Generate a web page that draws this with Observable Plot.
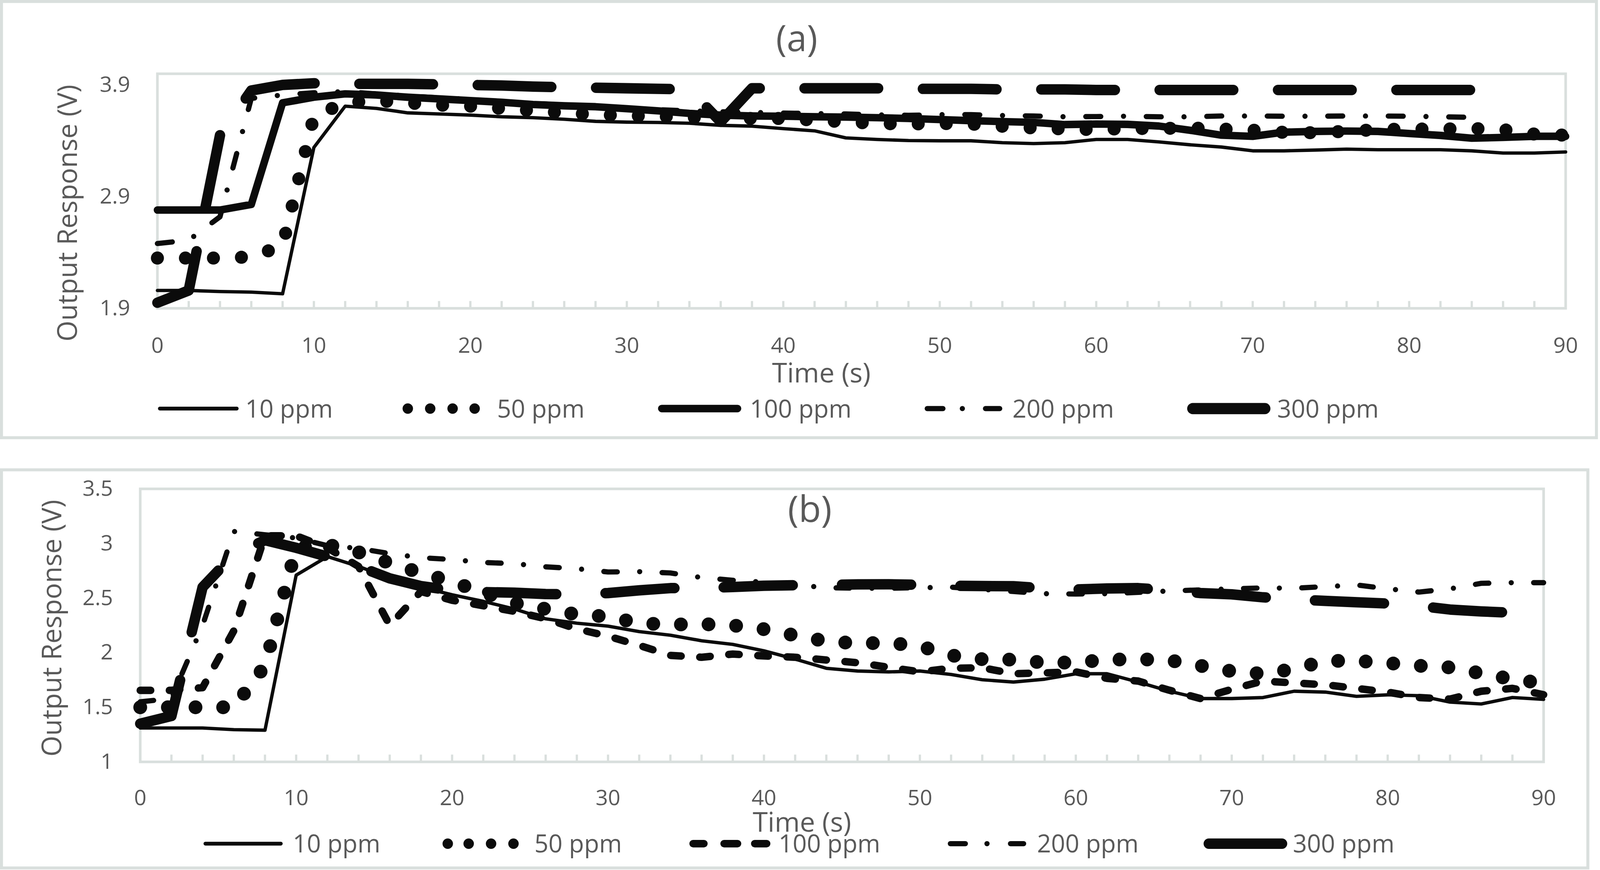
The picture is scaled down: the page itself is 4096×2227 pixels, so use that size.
<!DOCTYPE html>
<html><head><meta charset="utf-8">
<script src="https://cdn.jsdelivr.net/npm/d3@7"></script>
<script src="https://cdn.jsdelivr.net/npm/@observablehq/plot@0.6"></script>
<style>
html,body{margin:0;padding:0;background:#fff;}
#root{position:relative;width:4096px;height:2227px;overflow:hidden;background:#fff;}
</style></head><body><div id="root"></div>
<script>
// ---------- data ----------
const time = [0,2,4,6,8,10,12,14,16,18,20,22,24,26,28,30,32,34,36,38,40,42,44,46,48,50,52,54,56,58,60,62,64,66,68,70,72,74,76,78,80,82,84,86,88,90];
const seriesNames = ["10 ppm","50 ppm","100 ppm","200 ppm","300 ppm"];
const xTickLabels = [0,10,20,30,40,50,60,70,80,90];
const yTicksA = [1.9,2.9,3.9];
const yTicksB = [1,1.5,2,2.5,3,3.5];

// panel (a)
const a10 = [2.06,2.06,2.05,2.045,2.03,3.34,3.71,3.69,3.65,3.64,3.63,3.615,3.607,3.593,3.574,3.567,3.564,3.557,3.538,3.531,3.509,3.489,3.426,3.412,3.402,3.40,3.40,3.383,3.375,3.383,3.412,3.412,3.39,3.364,3.344,3.31,3.31,3.317,3.325,3.32,3.32,3.32,3.31,3.29,3.29,3.30];
const a50 = [2.35,2.35,2.35,2.36,2.46,3.62,3.74,3.76,3.74,3.72,3.71,3.69,3.67,3.65,3.635,3.625,3.62,3.61,3.605,3.60,3.60,3.585,3.57,3.555,3.55,3.555,3.55,3.53,3.515,3.506,3.50,3.51,3.51,3.515,3.505,3.495,3.475,3.472,3.485,3.50,3.505,3.505,3.51,3.50,3.46,3.45];
const a100 = [2.78,2.78,2.78,2.83,3.74,3.79,3.82,3.81,3.79,3.775,3.76,3.745,3.725,3.713,3.705,3.687,3.668,3.645,3.63,3.622,3.62,3.615,3.612,3.607,3.60,3.59,3.58,3.572,3.565,3.545,3.55,3.547,3.532,3.494,3.45,3.44,3.477,3.484,3.487,3.484,3.465,3.448,3.423,3.43,3.44,3.44];
const a200 = [2.48,2.51,2.72,3.78,3.81,3.83,3.84,3.82,3.80,3.785,3.77,3.75,3.735,3.72,3.705,3.69,3.678,3.668,3.66,3.654,3.648,3.644,3.64,3.632,3.628,3.634,3.634,3.626,3.622,3.615,3.617,3.62,3.615,3.615,3.622,3.622,3.62,3.62,3.622,3.622,3.62,3.615,3.61,null,null,null];
const a300 = [1.95,2.06,3.45,3.85,3.90,3.915,3.91,3.91,3.91,3.905,3.90,3.895,3.885,3.88,3.875,3.87,3.865,3.86,3.57,3.87,3.87,3.87,3.87,3.87,3.865,3.865,3.865,3.86,3.86,3.86,3.855,3.855,3.855,3.855,3.855,3.855,3.855,3.855,3.855,3.855,3.855,3.855,3.855,null,null,null];

// panel (b)
const b10 = [1.31,1.31,1.31,1.295,1.29,2.71,2.88,2.79,2.68,2.60,2.53,2.47,2.40,2.31,2.27,2.243,2.193,2.16,2.109,2.076,2.017,1.941,1.857,1.832,1.824,1.832,1.80,1.752,1.731,1.757,1.807,1.807,1.731,1.647,1.58,1.58,1.589,1.647,1.639,1.60,1.614,1.606,1.547,1.53,1.589,1.572];
const b50 = [1.50,1.50,1.50,1.50,1.88,2.96,2.99,2.92,2.82,2.73,2.65,2.55,2.455,2.40,2.35,2.33,2.27,2.257,2.262,2.25,2.215,2.158,2.105,2.085,2.09,2.06,1.975,1.94,1.936,1.908,1.91,1.935,1.941,1.93,1.88,1.83,1.807,1.85,1.925,1.925,1.905,1.88,1.865,1.81,1.757,1.72];
const b100 = [1.655,1.655,1.68,2.20,3.07,3.07,2.96,2.79,2.25,2.56,2.48,2.43,2.378,2.311,2.218,2.151,2.067,1.975,1.958,1.987,1.97,1.958,1.933,1.908,1.866,1.824,1.857,1.862,1.807,1.815,1.824,1.765,1.74,1.656,1.58,1.665,1.74,1.723,1.706,1.673,1.639,1.589,1.575,1.647,1.673,1.615];
const b200 = [1.55,1.58,2.25,3.11,3.08,3.05,2.98,2.955,2.907,2.87,2.853,2.826,2.815,2.786,2.769,2.739,2.742,2.73,2.688,2.663,2.646,2.621,2.595,2.59,2.59,2.595,2.60,2.58,2.56,2.54,2.537,2.54,2.552,2.565,2.575,2.585,2.593,2.59,2.605,2.62,2.585,2.555,2.585,2.635,2.641,2.641];
const b300 = [1.35,1.42,2.60,2.90,3.03,2.96,2.88,2.79,2.68,2.61,2.57,2.555,2.549,2.537,2.534,2.546,2.571,2.591,2.593,2.601,2.613,2.618,2.621,2.625,2.626,2.621,2.613,2.61,2.608,2.59,2.579,2.588,2.591,2.571,2.546,2.534,2.507,2.487,2.474,2.462,2.45,2.428,2.395,2.378,2.366,null];

// ---------- styles / layout (reference pixels, scaled by K) ----------
const K = 0.956;
const FRAME = "#d9dfdd", INK = "#0b0b0b", TXT = "#595959", FONT = "'Open Sans', sans-serif";

const stylesA = [
  {w: 9, dash: null},
  {w: 35, dash: [0, 75]},
  {w: 20, dash: null},
  {w: 14, dash: [40, 61, 0, 61]},
  {w: 28, dash: [197, 120]}
];
const stylesB = [
  {w: 9, dash: null},
  {w: 37, dash: [0, 74]},
  {w: 20, dash: [28, 50]},
  {w: 14, dash: [36, 60, 0, 60]},
  {w: 28, dash: [185, 132]}
];

const root = document.getElementById("root");

function mkPanel(p) {
  const mL = p.plotLeft, mR = 4283 - p.plotRight;
  const mT = p.plotTop - p.svgTop, mB = p.svgBottom - p.plotBottom;
  const H = p.svgBottom - p.svgTop;
  const plotH = p.plotBottom - p.plotTop;
  const lines = p.series.map((vals, i) => {
    const st = p.styles[i];
    const data = time.map((t, j) => ({t, v: vals[j], s: seriesNames[i]})).filter(d => d.v != null);
    const o = {x: "t", y: "v", stroke: INK, strokeWidth: st.w * K, strokeLinecap: "round", strokeLinejoin: "round"};
    if (st.dash) o.strokeDasharray = st.dash.map(d => d * K).join(",");
    return Plot.line(data, o);
  });
  const txt = (s, x, y, size, extra = {}) => Plot.text([s], {
    text: d => d, frameAnchor: "top-left",
    dx: (x - mL) * K, dy: (y - p.plotTop) * K,
    fontSize: size * K, fill: TXT, fontFamily: FONT,
    lineAnchor: "bottom", textAnchor: "middle", ...extra
  });
  const svg = Plot.plot({
    width: 4283 * K, height: H * K,
    marginLeft: mL * K, marginRight: mR * K, marginTop: mT * K, marginBottom: mB * K,
    x: {domain: [0, 90]},
    y: {domain: p.yDomain},
    style: {background: "transparent", fontFamily: FONT, overflow: "visible"},
    marks: [
      Plot.frame({stroke: FRAME, strokeWidth: 7 * K}),
      Plot.tickX(time, {x: d => d, stroke: FRAME, strokeWidth: 6 * K, insetTop: (plotH - 19) * K}),
      Plot.axisY({ticks: p.yTicks, tickFormat: p.yFormat, tickSize: 0, tickPadding: 73 * K,
        fontSize: 58 * K, fill: TXT, fontFamily: FONT, label: null}),
      Plot.axisX({ticks: xTickLabels, tickFormat: d => String(d), tickSize: 0, tickPadding: p.xPad * K,
        fontSize: 58 * K, fill: TXT, fontFamily: FONT, label: null}),
      ...lines,
      txt(p.title, p.titleX, p.titleY, p.titleSize),
      txt("Time (s)", p.xTitleX, p.xTitleY, 73),
      txt("Output Response (V)", p.yTitleX, p.yTitleY, 72, {rotate: -90})
    ]
  });
  svg.style.position = "absolute";
  svg.style.left = "0px";
  svg.style.top = (p.svgTop * K) + "px";
  root.appendChild(svg);
}

mkPanel({
  series: [a10, a50, a100, a200, a300], styles: stylesA,
  svgTop: 0, svgBottom: 1060, plotLeft: 421, plotRight: 4192, plotTop: 197, plotBottom: 825,
  yDomain: [1.9, 4.0], yTicks: yTicksA, yFormat: d3.format(".1f"), xPad: 78,
  title: "(a)", titleX: 2133, titleY: 137, titleSize: 97,
  xTitleX: 2199, xTitleY: 1024, yTitleX: 206, yTitleY: 570
});
mkPanel({
  series: [b10, b50, b100, b200, b300], styles: stylesB,
  svgTop: 1260, svgBottom: 2250, plotLeft: 375, plotRight: 4133, plotTop: 1308, plotBottom: 2039,
  yDomain: [1, 3.5], yTicks: yTicksB, yFormat: d => String(d), xPad: 75,
  title: "(b)", titleX: 2168, titleY: 1397, titleSize: 98,
  xTitleX: 2147, xTitleY: 2226, yTitleX: 164, yTitleY: 1681
});

// ---------- overlay: panel borders + legends ----------
const ov = d3.select(root).append("svg")
  .attr("width", 4096).attr("height", 2227)
  .style("position", "absolute").style("left", "0px").style("top", "0px")
  .style("pointer-events", "none");
const g = ov.append("g").attr("transform", `scale(${K})`);
g.append("rect").attr("x", 4).attr("y", 4).attr("width", 4271).attr("height", 1168)
  .attr("fill", "none").attr("stroke", FRAME).attr("stroke-width", 8);
g.append("rect").attr("x", 4).attr("y", 1258).attr("width", 4248).attr("height", 1066)
  .attr("fill", "none").attr("stroke", FRAME).attr("stroke-width", 8);

const legendA = {cy: 1094, base: 1118, items: [
  {segs: [[428, 634]], w: 10, tx: 657},
  {segs: [[1092], [1152], [1212], [1271]], w: 28, tx: 1331},
  {segs: [[1772, 1975]], w: 20, tx: 2008},
  {segs: [[2483, 2525], [2577], [2639, 2677]], w: 14, tx: 2711},
  {segs: [[3194, 3387]], w: 30, tx: 3420}
]};
const legendB = {cy: 2259, base: 2282, items: [
  {segs: [[550, 752]], w: 10, tx: 784},
  {segs: [[1199], [1255], [1315], [1375]], w: 28, tx: 1431},
  {segs: [[1856, 1885], [1939, 1975], [2021, 2053]], w: 20, tx: 2085},
  {segs: [[2545, 2585], [2643], [2706, 2741]], w: 14, tx: 2777},
  {segs: [[3237, 3433]], w: 28, tx: 3462}
]};
function drawLegend(L) {
  L.items.forEach((it, i) => {
    it.segs.forEach(s => {
      if (s.length === 1) {
        g.append("circle").attr("cx", s[0]).attr("cy", L.cy).attr("r", it.w / 2).attr("fill", INK);
      } else {
        g.append("line").attr("x1", s[0]).attr("x2", s[1]).attr("y1", L.cy).attr("y2", L.cy)
          .attr("stroke", INK).attr("stroke-width", it.w).attr("stroke-linecap", "round");
      }
    });
    g.append("text").attr("x", it.tx).attr("y", L.base).text(seriesNames[i])
      .attr("font-family", FONT).attr("font-size", 66).attr("fill", TXT);
  });
}
drawLegend(legendA);
drawLegend(legendB);
</script>
</body></html>
